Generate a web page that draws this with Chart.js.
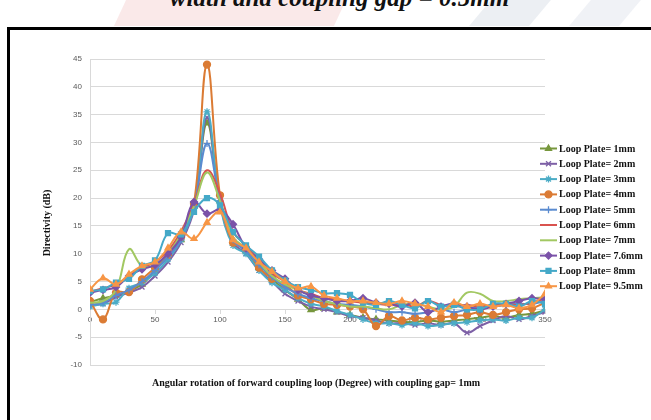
<!DOCTYPE html>
<html>
<head>
<meta charset="utf-8">
<script src="https://cdn.jsdelivr.net/npm/chart.js@4.4.1/dist/chart.umd.min.js"></script>
<style>
html, body { margin: 0; padding: 0; background: #fff; overflow: hidden; }
body { width: 651px; height: 420px; position: relative; }
.wm1 { position: absolute; left: 120px; top: 0; width: 220px; height: 26px; background: rgba(225,120,120,0.16); transform: skewX(-25deg); }
.wm2 { position: absolute; left: 480px; top: 0; width: 60px; height: 26px; background: rgba(150,165,190,0.18); transform: skewX(-40deg); }
.wm3 { position: absolute; left: 580px; top: 0; width: 50px; height: 26px; background: rgba(150,165,190,0.14); transform: skewX(-40deg); }
#caption { position: absolute; left: 14px; top: -17px; width: 651px; text-align: center; white-space: nowrap;
  font: italic bold 25px "Liberation Serif", serif; line-height: 30px; color: #111; }
#frame { position: absolute; left: 7px; top: 27px; width: 700px; height: 440px; border: 3px solid #000; box-sizing: border-box; }
#chart { position: absolute; left: 0; top: 0; }
</style>
</head>
<body>
<div class="wm1"></div><div class="wm2"></div><div class="wm3"></div>
<div id="caption">width and coupling gap = 0.5mm</div>
<div id="frame"></div>
<canvas id="chart" width="651" height="420"></canvas>
<script>
// angle of the forward coupling loop (degree)
const angles = [0, 10, 20, 30, 40, 50, 60, 70, 80, 90, 100, 110, 120, 130, 140, 150, 160, 170,
                180, 190, 200, 210, 220, 230, 240, 250, 260, 270, 280, 290, 300, 310, 320, 330, 340, 350];

const seriesNames = ['Loop Plate= 1mm', 'Loop Plate= 2mm', 'Loop Plate= 3mm', 'Loop Plate= 4mm',
                     'Loop Plate= 5mm', 'Loop Plate= 6mm', 'Loop Plate= 7mm', 'Loop Plate= 7.6mm',
                     'Loop Plate= 8mm', 'Loop Plate= 9.5mm'];

// directivity (dB)
const plate1mm = [1.3, 2.0, 2.5, 3.3, 4.5, 7.0, 9.5, 12.5, 18.5, 33.5, 19.5, 12.5, 10.5, 7.5, 5.5, 3.5, 1.8, -0.1,
                  0.2, -0.5, -1.0, -1.5, -1.8, -2.0, -2.2, -2.3, -2.0, -2.2, -2.0, -1.8, -1.5, -1.2, -1.5, -1.0, -0.8, -0.2];
const plate2mm = [0.8, 1.0, 2.2, 3.0, 4.0, 6.0, 8.5, 12.0, 18.0, 34.5, 19.0, 12.0, 10.0, 7.0, 5.0, 2.8, 1.5, 0.5,
                  0.0, -0.5, -1.2, -1.5, -2.0, -2.5, -2.5, -2.8, -2.5, -2.8, -2.5, -4.2, -3.0, -2.0, -1.2, -1.8, -1.2, -0.5];
const plate3mm = [0.5, 1.0, 1.3, 3.8, 4.8, 6.5, 9.0, 12.5, 18.5, 35.5, 19.0, 11.5, 10.0, 7.0, 4.8, 3.5, 2.0, 1.0,
                  0.5, -0.3, -1.0, -1.8, -2.5, -2.5, -2.8, -2.5, -3.0, -2.8, -2.5, -2.3, -2.0, -1.8, -2.0, -1.5, -1.5, 0.0];
const plate4mm = [1.5, -1.8, 3.0, 3.1, 5.4, 7.5, 9.8, 13.0, 19.0, 44.0, 20.5, 12.0, 11.0, 7.5, 5.5, 4.5, 2.5, 1.8,
                  1.0, 0.8, 0.5, 0.0, -3.0, -1.2, -2.0, -1.5, -1.8, -1.5, -1.2, -1.0, -0.5, -1.0, -0.5, 0.0, 0.2, 1.2];
const plate5mm = [0.8, 1.2, 2.5, 3.5, 5.0, 7.0, 9.5, 12.5, 18.5, 29.8, 19.5, 12.5, 10.5, 8.0, 5.8, 4.0, 2.8, 2.0,
                  1.5, 1.0, 0.8, 0.5, 0.0, -0.5, -0.5, -0.8, -0.5, 0.0, -0.5, 0.0, 0.5, 0.5, 0.8, 1.0, 1.0, 1.5];
const plate6mm = [3.2, 3.8, 4.5, 6.0, 7.5, 8.5, 10.5, 14.0, 19.0, 25.0, 20.8, 14.0, 11.5, 9.0, 6.5, 5.0, 3.5, 2.8,
                  2.0, 1.8, 1.5, 1.2, 1.0, 0.8, 1.0, 0.5, 1.5, 0.8, 0.5, 0.8, 0.5, 0.8, 1.0, 0.8, 1.2, 2.0];
const plate7mm = [1.2, 1.5, 3.5, 10.8, 7.8, 8.0, 10.0, 13.5, 18.5, 24.6, 19.5, 13.0, 11.0, 8.5, 6.0, 4.5, 3.5, 2.5,
                  1.5, 1.0, 0.5, 0.5, 0.2, 0.0, 0.8, 1.0, 0.5, 0.0, 0.5, 3.0, 2.8, 1.5, 1.5, 1.8, 2.0, 2.2];
const plate7_6mm = [3.0, 3.5, 4.0, 6.0, 7.2, 8.0, 10.0, 13.0, 19.3, 17.2, 17.9, 15.3, 11.0, 9.0, 7.0, 5.5, 3.5, 2.5,
                    2.0, 1.5, 1.5, 2.0, 1.2, 1.0, 0.5, 1.2, -0.5, 0.5, 1.0, 0.5, 0.0, 0.5, 1.0, 1.5, 2.0, 1.8];
const plate8mm = [3.3, 3.6, 4.8, 5.5, 7.8, 8.8, 13.7, 13.5, 17.5, 20.0, 18.7, 13.9, 11.5, 9.5, 7.0, 5.2, 4.0, 3.5,
                  2.9, 2.9, 2.6, 1.2, 0.8, 1.5, 0.8, 0.2, 1.5, 0.5, 0.8, 0.0, 0.0, 1.0, 1.0, 0.5, 1.5, 1.0];
const plate9_5mm = [3.6, 5.6, 4.5, 6.3, 7.8, 8.5, 11.0, 13.9, 12.7, 15.6, 17.5, 12.5, 11.0, 8.5, 6.8, 5.0, 3.8, 4.1,
                    2.5, 2.0, 1.5, 1.5, 1.2, 1.0, 1.5, 1.0, 0.5, -0.5, 1.2, 0.5, 1.0, 0.5, 0.8, 0.2, 0.8, 2.8];

const allSeries = [plate1mm, plate2mm, plate3mm, plate4mm, plate5mm, plate6mm, plate7mm, plate7_6mm, plate8mm, plate9_5mm];

const xTitle = 'Angular rotation of forward coupling loop (Degree) with coupling gap= 1mm';
const yTitle = 'Directivity (dB)';

// look of each series (Excel 2010 palette)
const looks = [
  { color: '#77973D', marker: 'triangle', r: 3.5 },
  { color: '#7D60A6', marker: 'crossRot', r: 3.5 },
  { color: '#4BACC6', marker: 'star', r: 3.5 },
  { color: '#DB7B34', marker: 'circle', r: 3.5 },
  { color: '#5A8BD0', marker: 'cross', r: 3.5 },
  { color: '#D9534F', marker: 'circle', r: 0 },
  { color: '#A2C862', marker: 'circle', r: 0 },
  { color: '#7A52A8', marker: 'rectRot', r: 3.5 },
  { color: '#45A9C8', marker: 'rect', r: 3.5 },
  { color: '#F79646', marker: 'triangle', r: 3.5 }
];

const datasets = allSeries.map((vals, i) => ({
  label: seriesNames[i],
  data: angles.map((a, k) => ({ x: a, y: vals[k] })),
  borderColor: looks[i].color,
  backgroundColor: looks[i].color,
  pointBackgroundColor: looks[i].color,
  pointBorderColor: looks[i].color,
  pointStyle: looks[i].marker,
  pointRadius: looks[i].r,
  pointBorderWidth: 1.3,
  borderWidth: 2,
  tension: 0.4,
  fill: false,
  order: allSeries.length - i
}));

const overlay = {
  id: 'overlay',
  afterDraw(chart) {
    const ctx = chart.ctx;
    ctx.save();
    ctx.fillStyle = '#111';
    ctx.font = 'bold 10px "Liberation Serif", serif';
    ctx.textAlign = 'center';
    ctx.textBaseline = 'middle';
    ctx.fillText(xTitle, 316, 383);
    ctx.translate(47, 223);
    ctx.rotate(-Math.PI / 2);
    ctx.fillText(yTitle, 0, 0);
    ctx.restore();

    chart.data.datasets.forEach((ds, i) => {
      const y = 148.5 + i * 15.3;
      ctx.save();
      ctx.strokeStyle = ds.borderColor;
      ctx.lineWidth = 2;
      ctx.beginPath();
      ctx.moveTo(540, y);
      ctx.lineTo(557, y);
      ctx.stroke();
      if (ds.pointRadius > 0) {
        ctx.fillStyle = ds.pointBackgroundColor;
        ctx.strokeStyle = ds.pointBorderColor;
        ctx.lineWidth = 1.3;
        if (Chart.helpers && Chart.helpers.drawPoint) {
          Chart.helpers.drawPoint(ctx, { pointStyle: ds.pointStyle, radius: ds.pointRadius, borderWidth: 1.3, rotation: 0 }, 548.5, y);
        } else {
          ctx.beginPath(); ctx.arc(548.5, y, ds.pointRadius, 0, Math.PI * 2); ctx.fill();
        }
      }
      ctx.fillStyle = '#111';
      ctx.font = 'bold 10px "Liberation Serif", serif';
      ctx.textAlign = 'left';
      ctx.textBaseline = 'middle';
      ctx.fillText(ds.label, 559, y + 0.5);
      ctx.restore();
    });
  }
};

new Chart(document.getElementById('chart'), {
  type: 'line',
  data: { datasets: datasets },
  options: {
    responsive: false,
    animation: false,
    devicePixelRatio: 1,
    layout: { padding: { top: 59, bottom: 55, left: 0, right: 106 } },
    plugins: { legend: { display: false }, tooltip: { enabled: false } },
    scales: {
      x: {
        type: 'linear',
        position: { y: 0 },
        min: 0,
        max: 350,
        ticks: { stepSize: 50, color: '#595959', font: { family: '"Liberation Sans", sans-serif', size: 8 }, padding: 2 },
        grid: { display: true, drawOnChartArea: false, drawTicks: true, tickLength: 4, color: '#d9d9d9' },
        border: { display: true, color: '#d9d9d9' }
      },
      y: {
        min: -10,
        max: 45,
        ticks: { stepSize: 5, color: '#595959', font: { family: '"Liberation Sans", sans-serif', size: 8 }, padding: 8 },
        grid: { color: '#d9d9d9', drawTicks: false },
        border: { display: true, color: '#d9d9d9' },
        afterFit(scale) { scale.width = 90; }
      }
    }
  },
  plugins: [overlay]
});
</script>
</body>
</html>
